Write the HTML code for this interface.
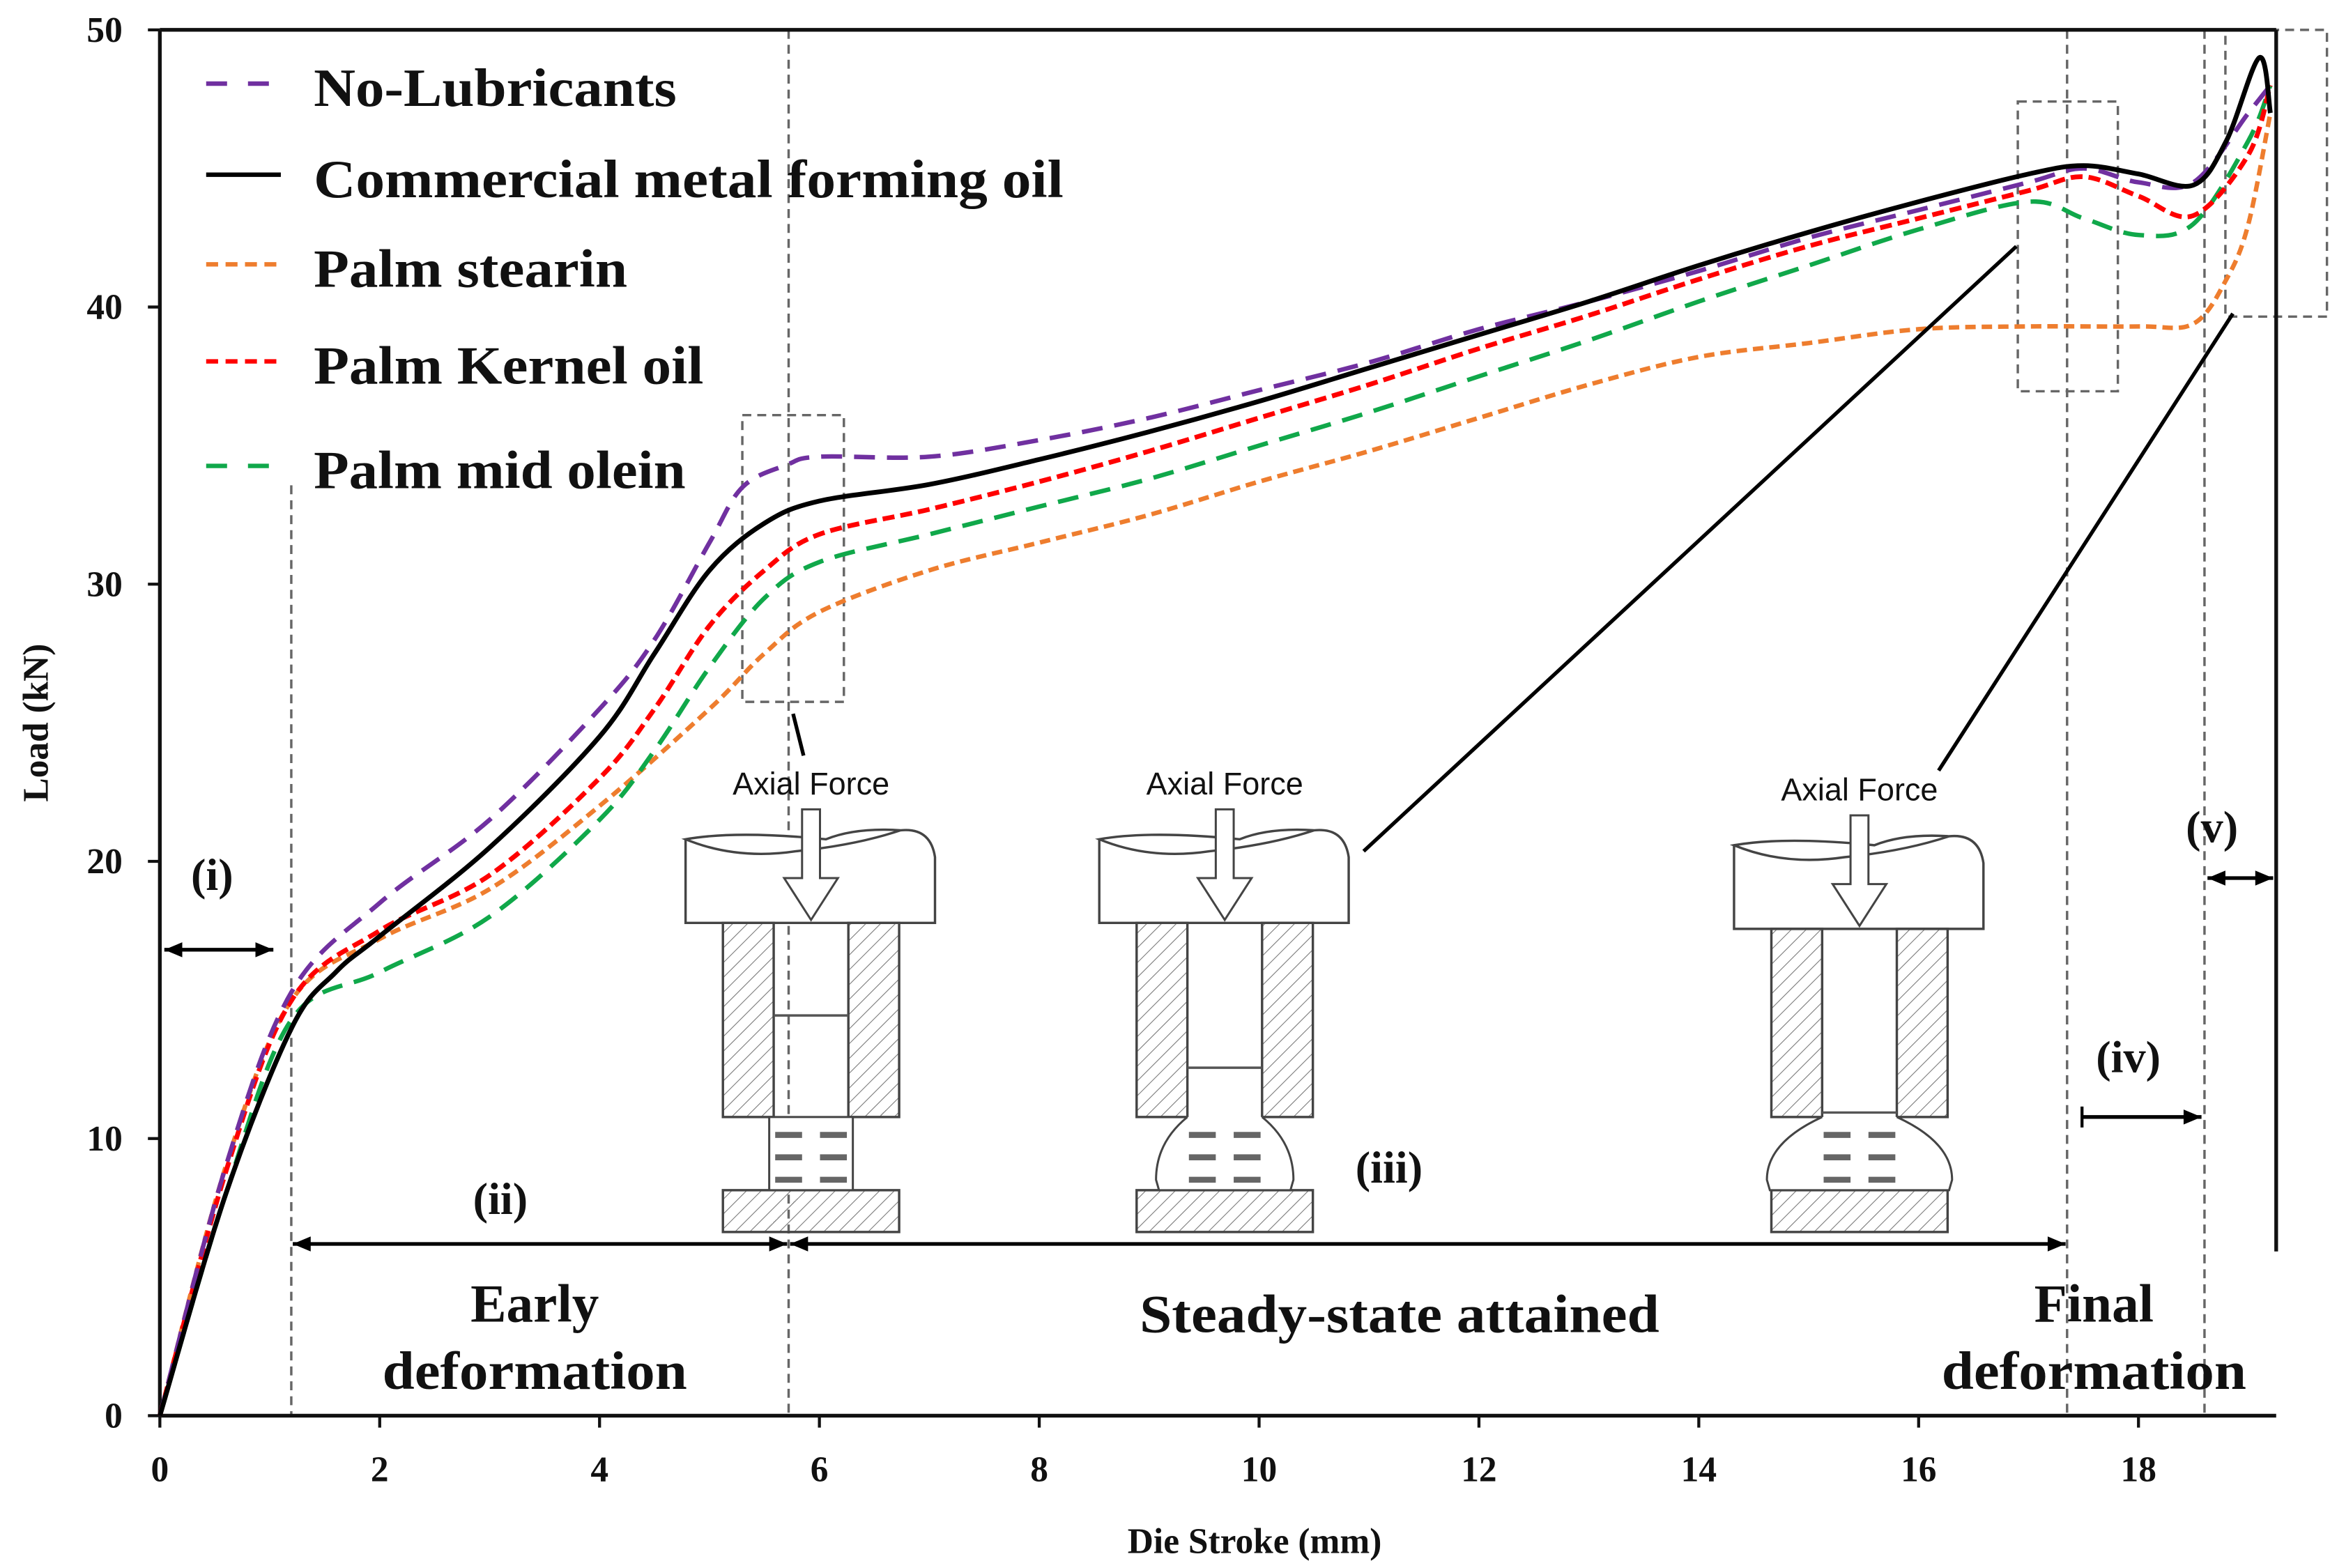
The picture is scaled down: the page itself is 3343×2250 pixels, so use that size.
<!DOCTYPE html>
<html><head><meta charset="utf-8"><style>
html,body{margin:0;padding:0;background:#fff;}
svg{display:block;}
text{font-family:"Liberation Serif",serif;font-weight:bold;fill:#111;}
.sans{font-family:"Liberation Sans",sans-serif;font-weight:normal;}
</style></head><body>
<svg id="chart" xmlns="http://www.w3.org/2000/svg" width="3343" height="2250" viewBox="0 0 1560 1050">
<defs>
<pattern id="hatch" patternUnits="userSpaceOnUse" width="7" height="7" patternTransform="rotate(45)">
<line x1="0" y1="0" x2="0" y2="7" stroke="#777" stroke-width="1"/>
</pattern>
</defs>
<g id="plot"></g>
</svg>
<script>
const xTicks=[0,2,4,6,8,10,12,14,16,18];
const yTicks=[0,10,20,30,40,50];
const noLubX=[0,0.6,1.2,2,3,4,4.5,5,5.3,5.7,6,7,8,9,10,11,12,13,14,15,16,17,17.5,18,18.5,19,19.2];
const noLubY=[0,9,15.3,18.5,21.5,25.5,28,31.5,33.5,34.3,34.6,34.6,35.2,36,37,38,39.2,40.2,41.3,42.5,43.5,44.5,45,44.5,44.5,47,48];
const commX=[0,0.6,1.2,1.6,2,3,4,4.5,5,5.5,6,7,8,9,10,11,12,13,14,15,16,17,17.5,18,18.5,18.8,19.1,19.2];
const commY=[0,8,14,16,17.3,20.5,24.5,27.5,30.5,32.2,33,33.6,34.5,35.5,36.6,37.8,39,40.2,41.5,42.7,43.8,44.8,45.1,44.8,44.4,46,49,47];
const stearX=[0,0.6,1.2,2,3,4,5,5.5,6,7,8,9,10,11,12,13,14,15,16,17,18,18.5,18.8,19,19.2];
const stearY=[0,9,15,17.2,19,22,25.5,27.5,29,30.5,31.5,32.5,33.7,34.8,36,37.2,38.2,38.7,39.2,39.3,39.3,39.4,41,43,47];
const kernelX=[0,0.6,1.2,2,3,4,4.5,5,5.5,6,7,8,9,10,11,12,13,14,15,16,17,17.5,18,18.5,19,19.2];
const kernelY=[0,8.8,15,17.5,19.5,23,25.5,28.5,30.5,31.8,32.7,33.7,34.8,36,37.2,38.5,39.7,41,42.2,43.2,44.2,44.7,44,43.3,45.5,48];
const oleinX=[0,0.6,1.2,2,3,4,4.5,5,5.5,6,7,8,9,10,11,12,13,14,15,16,17,17.5,18,18.5,19,19.2];
const oleinY=[0,8,14.3,16,18,21.5,24,27,29.5,30.8,31.8,32.8,33.8,35,36.2,37.5,38.8,40.2,41.5,42.8,43.8,43.2,42.6,43,46,48];
const legendLabels=["No-Lubricants","Commercial metal forming oil","Palm stearin","Palm Kernel oil","Palm mid olein"];

const X=v=>107+v*73.6, Y=v=>948-v*18.56;
const NS="http://www.w3.org/2000/svg";
const g=document.getElementById('plot');
function mk(tag,attrs,name,parent){const e=document.createElementNS(NS,tag);for(const k in attrs)e.setAttribute(k,attrs[k]);


(parent||g).appendChild(e);return e;}
function txt(x,y,s,size,name,extra){const t=mk('text',Object.assign({x:x,y:y,'font-size':size,'text-anchor':'middle'},extra||{}),name);t.textContent=s;return t;}
function smooth(xs,ys){const p=xs.map((x,i)=>[X(x),Y(ys[i])]);let d='M'+p[0][0]+','+p[0][1];
for(let i=0;i<p.length-1;i++){const p0=p[i-1]||p[i],p1=p[i],p2=p[i+1],p3=p[i+2]||p2;
d+=' C'+(p1[0]+(p2[0]-p0[0])/6)+','+(p1[1]+(p2[1]-p0[1])/6)+' '+(p2[0]-(p3[0]-p1[0])/6)+','+(p2[1]-(p3[1]-p1[1])/6)+' '+p2[0]+','+p2[1];}return d;}

const gray={stroke:'#666','stroke-width':1.6,'stroke-dasharray':'6 4',fill:'none'};
mk('line',Object.assign({x1:195,y1:325,x2:195,y2:948},gray),'guide-line-early');
mk('line',Object.assign({x1:528,y1:20,x2:528,y2:948},gray),'guide-line-steady');
mk('line',Object.assign({x1:1384,y1:20,x2:1384,y2:948},gray),'guide-line-final');
mk('line',Object.assign({x1:1476,y1:20,x2:1476,y2:948},gray),'guide-line-end');
mk('rect',Object.assign({x:497,y:278,width:68,height:192},gray),'zoom-box-1');
mk('rect',Object.assign({x:1351,y:68,width:67,height:194},gray),'zoom-box-2');
mk('rect',Object.assign({x:1490,y:20,width:68,height:192},gray),'zoom-box-3');

mk('line',{x1:107,y1:20,x2:107,y2:948,stroke:'#111','stroke-width':2.5},'y-axis');
mk('line',{x1:107,y1:948,x2:1524,y2:948,stroke:'#111','stroke-width':2.5},'x-axis');
mk('line',{x1:107,y1:20,x2:1524,y2:20,stroke:'#111','stroke-width':2.5},'top-border');
mk('line',{x1:1524,y1:20,x2:1524,y2:838,stroke:'#111','stroke-width':2.5},'right-border');
xTicks.forEach(v=>{mk('line',{x1:X(v),y1:948,x2:X(v),y2:956,stroke:'#111','stroke-width':2},'x-tick');txt(X(v),992,String(v),24,'x-tick-label');});
yTicks.forEach(v=>{mk('line',{x1:99,y1:Y(v),x2:107,y2:Y(v),stroke:'#111','stroke-width':2},'y-tick');txt(82,Y(v)+8,String(v),24,'y-tick-label',{'text-anchor':'end'});});
txt(840,1040,'Die Stroke  (mm)',24,'x-axis-title');
txt(32,484,'Load (kN)',24,'y-axis-title',{transform:'rotate(-90 32 484)'});

const series=[
 [stearX,stearY,'#ee7d2e','7 4',3,'series-palm-stearin'],
 [oleinX,oleinY,'#10a84a','14 8',3,'series-palm-mid-olein'],
 [kernelX,kernelY,'#ff0000','8 4',3.2,'series-palm-kernel-oil'],
 [noLubX,noLubY,'#7030a0','14 8',3,'series-no-lubricants'],
 [commX,commY,'#000','',3.2,'series-commercial-oil']];
series.forEach(s=>mk('path',{d:smooth(s[0],s[1]),fill:'none',stroke:s[2],'stroke-width':s[4],'stroke-dasharray':s[3]},s[5]));

const legColors=['#7030a0','#000','#ee7d2e','#ff0000','#10a84a'];
const legDash=['14 14','','8 5','8 5','14 14'];
const legY=[60,121,181,246,316];
const legLen=[243,502,210,261,249];
legendLabels.forEach((l,i)=>{mk('line',{x1:138,y1:legY[i]-4,x2:188,y2:legY[i]-4,stroke:legColors[i],'stroke-width':3,'stroke-dasharray':legDash[i]},'legend-swatch');
txt(210,legY[i]+11,l,36,'legend-entry',{'text-anchor':'start',textLength:legLen[i],lengthAdjust:'spacingAndGlyphs'});});

function diagram(cx,top,mid,stage,name){
 const G=mk('g',{},name);
 const a=(t,at,n)=>mk(t,at,n,G);
 const t=a('text',{x:cx,y:top-30,'font-size':21,'text-anchor':'middle',class:'sans'},'axial-force-label');t.textContent='Axial Force';
 a('path',{d:`M${cx-84},${top} L${cx-84},${top+56} L${cx+83},${top+56} L${cx+83},${top+12} Q${cx+80},${top-8} ${cx+60},${top-6} Q${cx+30},${top-8} ${cx+10},${top} Q${cx-50},${top-6} ${cx-84},${top} Q${cx-50},${top+14} ${cx-10},${top+8} Q${cx+30},${top+4} ${cx+60},${top-6}`,fill:'#fff',stroke:'#444','stroke-width':1.6},'punch');
 a('path',{d:`M${cx-6},${top-20} h12 v46 h12 l-18,28 l-18,-28 h12 z`,fill:'#fff',stroke:'#444','stroke-width':1.4},'force-arrow');
 const ct=top+56,cb=748;
 a('rect',{x:cx-59,y:ct,width:34,height:cb-ct,fill:'url(#hatch)',stroke:'#444','stroke-width':1.6},'container-left');
 a('rect',{x:cx+25,y:ct,width:34,height:cb-ct,fill:'url(#hatch)',stroke:'#444','stroke-width':1.6},'container-right');
 a('line',{x1:cx-25,y1:mid,x2:cx+25,y2:mid,stroke:'#555','stroke-width':1.6},'billet-top');
 a('rect',{x:cx-59,y:797,width:118,height:28,fill:'url(#hatch)',stroke:'#444','stroke-width':1.6},'die-base');
 if(stage===1){a('rect',{x:cx-28,y:748,width:56,height:49,fill:'#fff',stroke:'#444','stroke-width':1.4},'billet-bulge');}
 else{const w=stage===2?46:62;a('path',{d:`M${cx-25},748 Q${cx-w},765 ${cx-w},790 L${cx-w+2},797 L${cx+w-2},797 L${cx+w},790 Q${cx+w},765 ${cx+25},748`,fill:'#fff',stroke:'#444','stroke-width':1.4},'billet-bulge');}
 [760,775,790].forEach(yy=>{a('line',{x1:cx-24,y1:yy,x2:cx-6,y2:yy,stroke:'#666','stroke-width':4},'flow-arrow');a('line',{x1:cx+6,y1:yy,x2:cx+24,y2:yy,stroke:'#666','stroke-width':4},'flow-arrow');});
}
diagram(543,562,680,1,'diagram-early');
diagram(820,562,715,2,'diagram-steady');
diagram(1245,566,745,3,'diagram-final');

mk('line',{x1:531,y1:478,x2:538,y2:506,stroke:'#000','stroke-width':2.5},'leader-line-1');
mk('line',{x1:913,y1:570,x2:1350,y2:165,stroke:'#000','stroke-width':2.5},'leader-line-2');
mk('line',{x1:1298,y1:516,x2:1495,y2:210,stroke:'#000','stroke-width':2.5},'leader-line-3');

function arrow(x1,x2,y,both,name){mk('line',{x1:x1,y1:y,x2:x2,y2:y,stroke:'#000','stroke-width':2.5},name);
 mk('path',{d:`M${x2},${y} l-12,-5 v10 z`,fill:'#000'},name+'-head');
 if(both)mk('path',{d:`M${x1},${y} l12,-5 v10 z`,fill:'#000'},name+'-tail');}
arrow(110,183,636,true,'arrow-stage-i');
arrow(196,527,833,true,'arrow-stage-ii');
arrow(529,1383,833,true,'arrow-stage-iii');
arrow(1394,1474,748,false,'arrow-stage-iv');
mk('line',{x1:1394,y1:741,x2:1394,y2:755,stroke:'#000','stroke-width':2},'arrow-iv-tick');
arrow(1478,1522,588,true,'arrow-stage-v');

txt(142,596,'(i)',30,'stage-i-label');
txt(335,813,'(ii)',30,'stage-ii-label');
txt(930,792,'(iii)',30,'stage-iii-label');
txt(1425,718,'(iv)',30,'stage-iv-label');
txt(1481,564,'(v)',30,'stage-v-label');
txt(358,885,'Early',36,'early-label');
txt(358,930,'deformation',36,'early-label-2',{textLength:204,lengthAdjust:'spacingAndGlyphs'});
txt(937,892,'Steady-state attained',36,'steady-label',{textLength:348,lengthAdjust:'spacingAndGlyphs'});
txt(1402,885,'Final',36,'final-label');
txt(1402,930,'deformation',36,'final-label-2',{textLength:204,lengthAdjust:'spacingAndGlyphs'});
</script>
</body></html>
